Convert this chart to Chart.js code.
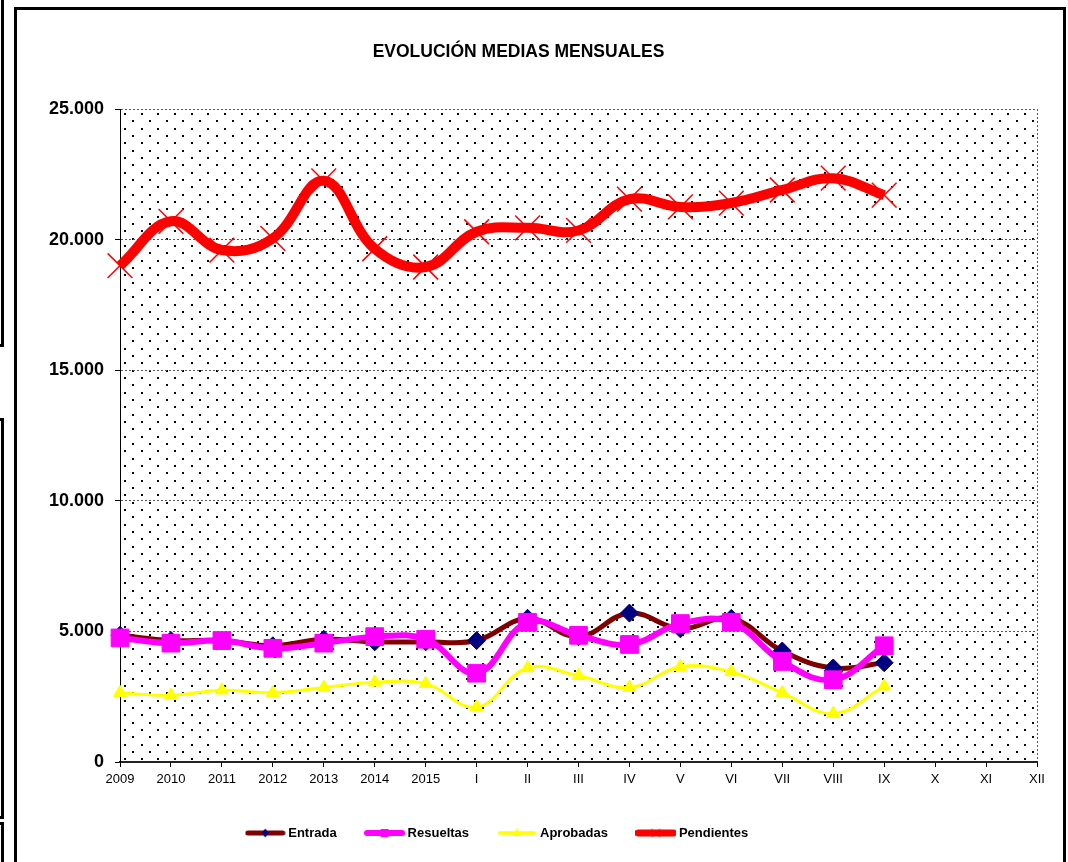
<!DOCTYPE html>
<html>
<head>
<meta charset="utf-8">
<script src="https://cdn.jsdelivr.net/npm/chart.js@4.4.1/dist/chart.umd.min.js"></script>
<style>
  html, body { margin: 0; padding: 0; background: #fff; }
  body { width: 1068px; height: 862px; position: relative; overflow: hidden; }
  .frame { position: absolute; box-sizing: border-box; border: 3px solid #000; }
  #wrap { position: absolute; left: 0; top: 0; width: 1068px; height: 862px; }
</style>
</head>
<body>
<div class="frame" style="left:-20px; top:-10px; width:24px; height:357px;"></div>
<div class="frame" style="left:-20px; top:418px; width:24px; height:401px;"></div>
<div class="frame" style="left:-20px; top:822px; width:24px; height:100px;"></div>
<div class="frame" style="left:14px; top:7px; width:1052px; height:900px;"></div>
<div id="wrap"><canvas id="myChart"></canvas></div>
<script>
var xValues = ["2009", "2010", "2011", "2012", "2013", "2014", "2015",
  "I", "II", "III", "IV", "V", "VI", "VII", "VIII", "IX", "X", "XI", "XII"];
var entrada = [4850, 4650, 4650, 4450, 4700, 4600, 4600, 4650, 5500, 4800, 5700, 5100, 5500, 4250, 3600, 3800];
var resueltas = [4750, 4550, 4650, 4350, 4550, 4800, 4700, 3400, 5350, 4850, 4500, 5300, 5350, 3850, 3150, 4450];
var aprobadas = [2650, 2550, 2750, 2650, 2850, 3050, 3000, 2100, 3600, 3300, 2850, 3650, 3450, 2650, 1850, 2900];
var pendientes = [19000, 20700, 19600, 20050, 22250, 19650, 18950, 20300, 20450, 20350, 21550, 21250, 21400, 21900, 22350, 21700];
var yMin = 0, yMax = 25000, yStep = 5000;

Chart.defaults.font.family = "'Liberation Sans', Arial, sans-serif";
Chart.defaults.color = "#000";

// legend icons: short line with the marker in the middle
function legendIcon(color, width, marker, mColor) {
  var c = document.createElement("canvas");
  c.width = 41; c.height = 16;
  var g = c.getContext("2d");
  g.strokeStyle = color; g.lineWidth = width; g.lineCap = "round";
  g.beginPath(); g.moveTo(3, 8); g.lineTo(38, 8); g.stroke();
  g.fillStyle = mColor; g.strokeStyle = mColor; g.lineWidth = 1;
  var x = 20.5, y = 8;
  g.beginPath();
  if (marker == "diamond") {
    g.moveTo(x, y - 4.5); g.lineTo(x + 3.5, y); g.lineTo(x, y + 4.5); g.lineTo(x - 3.5, y); g.closePath(); g.fill();
  } else if (marker == "square") {
    g.fillRect(x - 4, y - 4, 8, 8);
  } else if (marker == "triangle") {
    g.moveTo(x, y - 5); g.lineTo(x + 4.5, y + 3); g.lineTo(x - 4.5, y + 3); g.closePath(); g.fill();
  } else {
    g.moveTo(x - 4, y - 4); g.lineTo(x + 4, y + 4); g.moveTo(x + 4, y - 4); g.lineTo(x - 4, y + 4); g.stroke();
  }
  return c;
}
var icons = [
  legendIcon("#800000", 5, "diamond", "#000080"),
  legendIcon("#FF00FF", 6, "square", "#FF00FF"),
  legendIcon("#FFFF00", 3.5, "triangle", "#FFFF00"),
  legendIcon("#FF0000", 7, "cross", "#FF0000")
];

var dotsPattern = null;
function makeDots(ctx) {
  var t = document.createElement("canvas");
  t.width = 50; t.height = 44;
  var g = t.getContext("2d");
  g.fillStyle = "#000";
  for (var i = 0; i < 3; i++) {
    for (var j = 0; j < 3; j++) {
      g.fillRect(Math.round(i * 50 / 3), Math.round(j * 44 / 3), 2, 2);
      g.fillRect(Math.round(i * 50 / 3 + 25 / 3), Math.round(j * 44 / 3 + 22 / 3), 2, 2);
    }
  }
  return ctx.createPattern(t, "repeat");
}

var plotBackground = {
  id: "plotBackground",
  beforeDraw: function (chart) {
    var a = chart.chartArea, ctx = chart.ctx;
    if (!dotsPattern) dotsPattern = makeDots(ctx);
    ctx.save();
    ctx.fillStyle = "#fff";
    ctx.fillRect(a.left, a.top, a.right - a.left, a.bottom - a.top);
    ctx.translate(a.left + 4, a.top + 4);
    ctx.fillStyle = dotsPattern;
    ctx.fillRect(-4, -4, a.right - a.left, a.bottom - a.top);
    ctx.restore();
  }
};

var legendShift = {
  id: "legendShift",
  afterLayout: function (chart) {
    chart.legend.left -= 20;
    chart.legend.right -= 20;
  }
};

function miles(v) {
  return String(v).replace(/\B(?=(\d{3})+(?!\d))/g, ".");
}

new Chart("myChart", {
  type: "line",
  data: {
    labels: xValues,
    datasets: [{
      label: "Entrada",
      data: entrada,
      borderColor: "#800000",
      borderWidth: 5,
      pointStyle: "rectRot",
      pointRadius: 9,
      pointBackgroundColor: "#000080",
      pointBorderColor: "#000080",
      pointBorderWidth: 1,
      tension: 0.4,
      clip: false,
      order: 4
    }, {
      label: "Resueltas",
      data: resueltas,
      borderColor: "#FF00FF",
      borderWidth: 6,
      pointStyle: "rect",
      pointRadius: 12.5,
      pointBackgroundColor: "#FF00FF",
      pointBorderColor: "#FF00FF",
      pointBorderWidth: 1,
      tension: 0.4,
      clip: false,
      order: 3
    }, {
      label: "Aprobadas",
      data: aprobadas,
      borderColor: "#FFFF00",
      borderWidth: 3,
      pointStyle: "triangle",
      pointRadius: 7.5,
      pointBackgroundColor: "#FFFF00",
      pointBorderColor: "#FFFF00",
      pointBorderWidth: 1,
      tension: 0.4,
      clip: false,
      order: 2
    }, {
      label: "Pendientes",
      data: pendientes,
      borderColor: "#FF0000",
      borderWidth: 10,
      pointStyle: "crossRot",
      pointRadius: 17.5,
      pointBorderColor: "#FF0000",
      pointBorderWidth: 1.5,
      tension: 0.4,
      clip: false,
      order: 1
    }]
  },
  options: {
    responsive: true,
    maintainAspectRatio: false,
    animation: false,
    events: [],
    layout: { padding: { left: 0, right: 31, top: 0, bottom: 12.5 } },
    scales: {
      x: {
        afterFit: function (s) { s.height = 33; },
        grid: {
          drawOnChartArea: true,
          color: function (c) { return c.index === xValues.length - 1 ? "#555" : "rgba(0,0,0,0)"; },
          tickColor: "#000",
          tickLength: 5,
          tickBorderDash: []
        },
        border: { display: true, color: "#222", width: 2, dash: [2, 2] },
        ticks: {
          autoSkip: false,
          maxRotation: 0,
          padding: 5,
          font: { size: 13 },
          color: "#000"
        }
      },
      y: {
        min: yMin,
        max: yMax,
        afterFit: function (s) { s.width = 120; },
        grid: {
          color: "#555",
          tickColor: "#000",
          tickLength: 5,
          tickBorderDash: []
        },
        border: { display: true, color: "#000", width: 1, dash: [2, 2] },
        ticks: {
          stepSize: yStep,
          padding: 11,
          font: { size: 18, weight: "bold" },
          color: "#000",
          callback: function (v) { return miles(v); }
        }
      }
    },
    plugins: {
      tooltip: { enabled: false },
      title: {
        display: true,
        text: "EVOLUCIÓN MEDIAS MENSUALES",
        color: "#000",
        font: { size: 17.5, weight: "bold" },
        padding: { top: 41.5, bottom: 46.5 }
      },
      legend: {
        position: "bottom",
        labels: {
          usePointStyle: true,
          pointStyleWidth: 33,
          padding: 31.5,
          color: "#000",
          font: { size: 13, weight: "bold" },
          sort: function (a, b) { return a.datasetIndex - b.datasetIndex; },
          generateLabels: function (chart) {
            var items = Chart.defaults.plugins.legend.labels.generateLabels(chart);
            items.forEach(function (it) { it.pointStyle = icons[it.datasetIndex]; });
            return items;
          }
        }
      }
    }
  },
  plugins: [plotBackground, legendShift]
});
</script>
</body>
</html>
